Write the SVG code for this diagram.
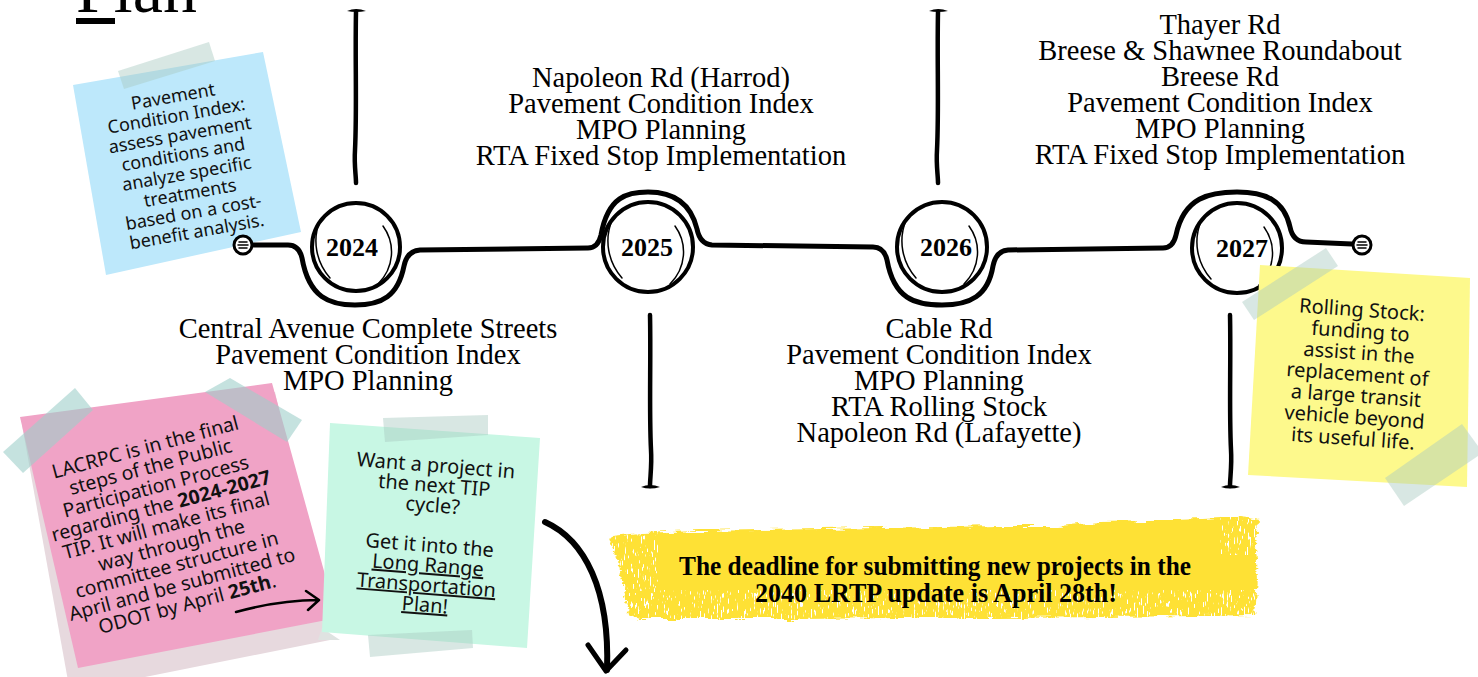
<svg xmlns="http://www.w3.org/2000/svg" width="1478" height="677" viewBox="0 0 1478 677">
<style>
.serif{font-family:"Liberation Serif","Times New Roman",serif;fill:#000}
.lbl{font-size:28.5px;text-anchor:middle}
.yr{font-size:26px;font-weight:bold;text-anchor:middle}
.hand{font-family:"Noto Sans","DejaVu Sans",sans-serif;fill:#111;text-anchor:middle}
.ink{fill:none;stroke:#000;stroke-linecap:round;stroke-linejoin:round}
.tape{fill:#a9c9c1;opacity:0.45}
.tapeP{fill:#9fcfca;opacity:0.6}
</style>
<defs>
  <filter id="rough" x="-5%" y="-30%" width="110%" height="160%">
    <feTurbulence type="fractalNoise" baseFrequency="0.06 0.35" numOctaves="2" seed="3" result="n"/>
    <feDisplacementMap in="SourceGraphic" in2="n" scale="9" xChannelSelector="R" yChannelSelector="G"/>
  </filter>
  <filter id="speck" x="0" y="0" width="100%" height="100%">
    <feTurbulence type="fractalNoise" baseFrequency="0.7 0.12" numOctaves="2" seed="9"/>
    <feColorMatrix type="matrix" values="0 0 0 0 1  0 0 0 0 1  0 0 0 0 1  14 0 0 0 -8.8"/>
  </filter>
</defs>
<rect width="1478" height="677" fill="#fff"/>

<g id="title">
  <text class="serif" x="76" y="12" font-size="68">Plan</text>
  <rect x="76" y="18" width="39" height="6" fill="#000"/>
</g>

<g id="note-blue">
  <polygon points="73,85 263,52 301,232 106,275" fill="#bde8fb"/>
  <polygon class="tape" points="118,71 209,42 215,61 124,89"/>
  <g transform="translate(186,170) rotate(-10)" class="hand" style="font-size:18px">
    <text x="0" y="-68.6">Pavement</text>
    <text x="0" y="-49">Condition Index:</text>
    <text x="0" y="-29.4">assess pavement</text>
    <text x="0" y="-9.8">conditions and</text>
    <text x="0" y="9.8">analyze specific</text>
    <text x="0" y="29.4">treatments</text>
    <text x="0" y="49">based on a cost-</text>
    <text x="0" y="68.6">benefit analysis.</text>
  </g>
</g>

<g id="connectors">
  <path class="ink" stroke-width="5" d="M252,245 L288,245 Q299,245 302,258 C309,298 330,305 355,305 C382,305 398,296 404,266 Q407,251 420,250 L588,248 Q598,248 601,235 C608,196 628,192 648,192 C670,192 690,200 697,229 Q700,244 712,245 L873,247 Q884,247 887,260 C894,299 915,305 942,305 C970,305 988,296 993,266 Q996,251 1008,250 L1163,248 Q1173,248 1176,235 C1184,197 1210,192 1237,192 C1265,192 1284,200 1290,227 Q1293,242 1306,242 L1352,244"/>
  <path class="ink" stroke-width="4.5" d="M356,12 C355,60 357,110 355,150 C354,165 356,175 356,183"/>
  <path d="M347,11 Q356,7 366,11 Q356,13 347,11Z" fill="#000"/>
  <path class="ink" stroke-width="4.5" d="M938,12 C937,60 939,110 937,150 C936,165 938,175 938,183"/>
  <path d="M929,11 Q938,7 948,11 Q938,13 929,11Z" fill="#000"/>
  <path class="ink" stroke-width="4.5" d="M650,315 C651,360 649,410 651,450 C652,465 650,478 650,486"/>
  <path d="M641,487 Q650,483 660,487 Q650,490 641,487Z" fill="#000"/>
  <path class="ink" stroke-width="4.5" d="M1230,315 C1231,360 1229,410 1231,450 C1232,465 1230,478 1230,486"/>
  <path d="M1221,487 Q1230,483 1240,487 Q1230,490 1221,487Z" fill="#000"/>
  <g>
    <circle cx="243" cy="245" r="9" fill="#fff" stroke="#000" stroke-width="3"/>
    <path class="ink" stroke-width="1.5" d="M239,242 H247 M238,245 H248 M239,248 H247"/>
    <circle cx="1362" cy="245" r="9" fill="#fff" stroke="#000" stroke-width="3"/>
    <path class="ink" stroke-width="1.5" d="M1358,242 H1366 M1357,245 H1367 M1358,248 H1366"/>
  </g>
</g>

<g id="y2024">
  <circle cx="356" cy="247" r="44" fill="#fff" stroke="#000" stroke-width="4"/>
  <path class="ink" stroke-width="1.5" d="M320,220 C312,240 316,262 330,278 M383,226 C396,244 394,268 378,284"/>
  <text class="serif yr" x="352" y="256">2024</text>
</g>
<g id="y2025">
  <circle cx="648" cy="247" r="45" fill="#fff" stroke="#000" stroke-width="4"/>
  <path class="ink" stroke-width="1.5" d="M612,220 C604,240 608,262 622,278 M675,226 C688,244 686,268 670,284"/>
  <text class="serif yr" x="647" y="256">2025</text>
</g>
<g id="y2026">
  <circle cx="942" cy="247" r="45" fill="#fff" stroke="#000" stroke-width="4"/>
  <path class="ink" stroke-width="1.5" d="M906,220 C898,240 902,262 916,278 M969,226 C982,244 980,268 964,284"/>
  <text class="serif yr" x="946" y="256">2026</text>
</g>
<g id="y2027">
  <circle cx="1237" cy="248" r="45" fill="#fff" stroke="#000" stroke-width="4"/>
  <path class="ink" stroke-width="1.5" d="M1201,221 C1193,241 1197,263 1211,279 M1264,227 C1277,245 1275,269 1259,285"/>
  <text class="serif yr" x="1242" y="257">2027</text>
</g>

<g id="label-2025" class="serif lbl">
  <text x="661" y="87">Napoleon Rd (Harrod)</text>
  <text x="661" y="113">Pavement Condition Index</text>
  <text x="661" y="139">MPO Planning</text>
  <text x="661" y="165">RTA Fixed Stop Implementation</text>
</g>
<g id="label-2027" class="serif lbl">
  <text x="1220" y="34">Thayer Rd</text>
  <text x="1220" y="60">Breese &amp; Shawnee Roundabout</text>
  <text x="1220" y="86">Breese Rd</text>
  <text x="1220" y="112">Pavement Condition Index</text>
  <text x="1220" y="138">MPO Planning</text>
  <text x="1220" y="164">RTA Fixed Stop Implementation</text>
</g>
<g id="label-2024" class="serif lbl">
  <text x="368" y="338">Central Avenue Complete Streets</text>
  <text x="368" y="364">Pavement Condition Index</text>
  <text x="368" y="390">MPO Planning</text>
</g>
<g id="label-2026" class="serif lbl">
  <text x="939" y="338">Cable Rd</text>
  <text x="939" y="364">Pavement Condition Index</text>
  <text x="939" y="390">MPO Planning</text>
  <text x="939" y="416">RTA Rolling Stock</text>
  <text x="939" y="442">Napoleon Rd (Lafayette)</text>
</g>

<g id="note-pink">
  <polygon points="22,425 275,392 330,640 70,692" fill="#e7d9de"/>
  <polygon points="20,417 272,383 337,618 78,668" fill="#f0a3c6"/>
  <polygon class="tapeP" points="3,452 75,388 93,410 23,473"/>
  <polygon class="tapeP" points="205,392 230,378 302,420 287,442"/>
  <g transform="translate(168,532) rotate(-15)" class="hand" style="font-size:19.5px">
    <text x="0" y="-81">LACRPC is in the final</text>
    <text x="0" y="-60.8">steps of the Public</text>
    <text x="0" y="-40.5">Participation Process</text>
    <text x="0" y="-20.3">regarding the <tspan font-weight="bold">2024-2027</tspan></text>
    <text x="0" y="0">TIP. It will make its final</text>
    <text x="0" y="20.3">way through the</text>
    <text x="0" y="40.5">committee structure in</text>
    <text x="0" y="60.8">April and be submitted to</text>
    <text x="0" y="81">ODOT by April <tspan font-weight="bold">25th</tspan>.</text>
  </g>
  <path class="ink" stroke-width="2.5" d="M236,612 Q280,600 318,600 M306,591 L319,600 L308,610"/>
</g>

<g id="note-green">
  <polygon points="318,640 322,628 340,640" fill="#dfe3e1"/>
  <polygon points="330,423 540,438 527,648 322,632" fill="#c8f7e4"/>
  <polygon class="tape" points="383,418 488,415 488,435 385,442"/>
  <polygon class="tape" points="368,635 472,630 473,648 370,657"/>
  <g transform="translate(430,540) rotate(4.5)" class="hand" style="font-size:20px">
    <text x="0" y="-68">Want a project in</text>
    <text x="0" y="-48">the next TIP</text>
    <text x="0" y="-28">cycle?</text>
    <text x="0" y="12">Get it into the</text>
    <text x="0" y="32" text-decoration="underline">Long Range</text>
    <text x="0" y="52" text-decoration="underline">Transportation</text>
    <text x="0" y="72" text-decoration="underline">Plan!</text>
  </g>
</g>

<g id="note-yellow">
  <polygon points="1260,265 1470,278 1467,487 1248,475" fill="#fdf98c"/>
  <polygon class="tape" points="1242,302 1326,248 1338,266 1254,320"/>
  <polygon class="tape" points="1385,478 1462,424 1478,446 1478,456 1404,506"/>
  <g transform="translate(1357,381) rotate(4)" class="hand" style="font-size:20px">
    <text x="0" y="-64.5">Rolling Stock:</text>
    <text x="0" y="-43">funding to</text>
    <text x="0" y="-21.5">assist in the</text>
    <text x="0" y="0">replacement of</text>
    <text x="0" y="21.5">a large transit</text>
    <text x="0" y="43">vehicle beyond</text>
    <text x="0" y="64.5">its useful life.</text>
  </g>
</g>

<g id="banner">
  <path filter="url(#rough)" d="M612,536 L640,533 L700,531 L760,530 L820,529 L880,528 L940,527 L1000,526 L1060,526 L1100,522 L1150,521 L1200,519 L1240,517 L1258,520 L1256,545 L1258,580 L1255,615 L1200,616 L1100,617 L1000,618 L900,618 L800,619 L720,619 L640,619 L628,614 L624,590 L618,560 L610,545 Z" fill="#fee135"/>
  <rect x="610" y="590" width="650" height="32" filter="url(#speck)"/>
  <rect x="608" y="530" width="50" height="90" filter="url(#speck)"/>
  <rect x="1220" y="515" width="45" height="40" filter="url(#speck)"/>
  <text class="serif" x="935" y="575" font-size="27" font-weight="bold" text-anchor="middle" textLength="512" lengthAdjust="spacingAndGlyphs">The deadline for submitting new projects in the</text>
  <text class="serif" x="936" y="602" font-size="27" font-weight="bold" text-anchor="middle" textLength="362" lengthAdjust="spacingAndGlyphs">2040 LRTP update is April 28th!</text>
</g>

<g id="big-arrow">
  <path class="ink" stroke-width="6" d="M545,522 C585,540 610,590 607,670"/>
  <path class="ink" stroke-width="5" d="M588,645 L606,671 L626,650"/>
</g>
</svg>
